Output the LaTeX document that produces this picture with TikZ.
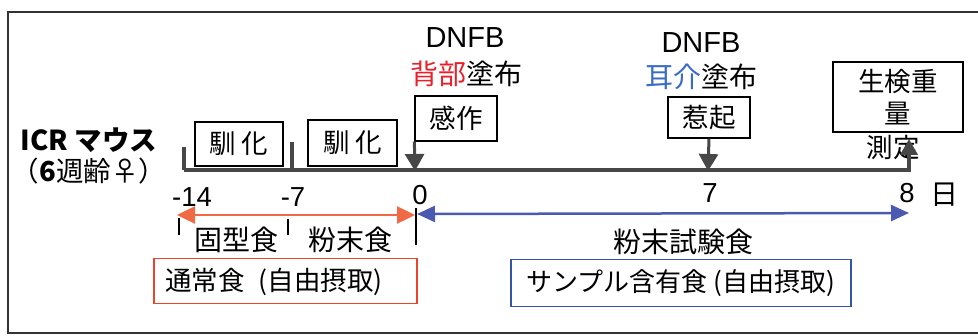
\documentclass[tikz,border=0pt]{standalone}
\usepackage{fontspec}
\setmainfont{Liberation Sans}
\newfontfamily\jp{Noto Sans CJK JP}
\usetikzlibrary{arrows.meta}
\definecolor{tlgray}{HTML}{474747}
\definecolor{orarrow}{HTML}{F06A45}
\definecolor{blarrow}{HTML}{4A5AB0}
\definecolor{redtxt}{HTML}{E8202A}
\definecolor{bluetxt}{HTML}{3A6CC6}
\definecolor{redbox}{HTML}{E8452A}
\definecolor{bluebox}{HTML}{3454A8}
\begin{document}
\begin{tikzpicture}[x=1pt,y=-1pt,
  lbl/.style={inner sep=0pt,font=\jp\fontsize{28}{30}\selectfont},
  num/.style={inner sep=0pt,font=\fontsize{27.5}{29}\selectfont},
  ebox/.style={draw=black,line width=1.3pt,inner sep=0pt,font=\jp\fontsize{26.5}{30}\selectfont},
  garrow/.style={draw=tlgray,line width=3pt,-{Triangle[width=19pt,length=17pt]}},
  tick/.style={draw=black,line width=1.5pt}
]
\useasboundingbox (0,0) rectangle (978,336);
% frame
\draw[line width=1.6pt,draw=black!80] (978,12) -- (8,12) -- (8,333) -- (978,333);

% left labels
\node[lbl,font=\jp\bfseries\fontsize{27.5}{30}\selectfont] (icr) at (89,140) {ICR マウス};
\node[lbl,font=\jp\fontsize{27.5}{30}\selectfont] (age) at (89,171) {（\textbf{6}週齢♀）};

% event boxes
\node[ebox,minimum width=88pt,minimum height=44pt] (jun1) at (239,144) {馴 化};
\node[ebox,minimum width=89pt,minimum height=46pt] (jun2) at (352.5,143) {馴 化};
\node[ebox,minimum width=82pt,minimum height=45pt] (kansa) at (456,118.5) {感作};
\node[ebox,minimum width=82pt,minimum height=41pt] (jaki) at (709,117.5) {惹起};
\node[ebox,minimum width=130pt,minimum height=70pt,align=center,font=\jp\fontsize{26.5}{32}\selectfont] (seiken) at (898,97) {生検重\\量};
\node[lbl,font=\jp\fontsize{26.5}{30}\selectfont] (sokutei) at (893,148) {測定};

% DNFB labels
\node[num,font=\fontsize{29}{31}\selectfont] (dnfb1) at (465,38) {DNFB};
\node[lbl] (haibu) at (466,74) {\textcolor{redtxt}{背部}塗布};
\node[num,font=\fontsize{29}{31}\selectfont] (dnfb2) at (701,43) {DNFB};
\node[lbl] (jikai) at (701,77) {\textcolor{bluetxt}{耳介}塗布};

% timeline
\coordinate (ts) at (184,170);
\coordinate (tcorner) at (909,170);
\coordinate (tend) at (909,139);
\coordinate (t0) at (415,171);
\coordinate (t7) at (708,171);
\coordinate (tk1a) at (184,147);
\coordinate (tk2a) at (292,142);
\coordinate (tk2b) at (292,170);
\draw[draw=tlgray,line width=4pt] (tk1a) -- (ts);
\draw[draw=tlgray,line width=4pt] (tk2a) -- (tk2b);
\draw[draw=tlgray,line width=4.5pt,-{Triangle[width=17pt,length=16pt]}] (ts) -- (tcorner) -- (tend);
\draw[garrow] (kansa.south west) -- (t0);
\draw[garrow] (jaki.south) -- (t7);

% day labels
\node[num] (m14) at (192,197) {-14};
\node[num] (m7) at (293,197) {-7};
\node[num] (d0) at (420,195) {0};
\node[num] (d7) at (710,193) {7};
\node[num] (d8) at (907,193) {8};
\node[lbl] (hi) at (944,195) {日};

% diet arrows
\coordinate (oa) at (177,215);
\coordinate (ob) at (415,215);
\coordinate (ba) at (417,214);
\coordinate (bb) at (909,213);
\draw[draw=orarrow,line width=2.5pt,{Triangle[width=17pt,length=18pt]}-{Triangle[width=17pt,length=18pt]}] (oa) -- (ob);
\draw[draw=blarrow,line width=2.5pt,{Triangle[width=16pt,length=18pt]}-{Triangle[width=16pt,length=18pt]}] (ba) -- (bb);

% small ticks
\coordinate (s1a) at (179,218); \coordinate (s1b) at (179,235);
\coordinate (s2a) at (288,219); \coordinate (s2b) at (288,235);
\coordinate (s3a) at (416,208); \coordinate (s3b) at (416,245);
\draw[tick] (s1a) -- (s1b);
\draw[tick] (s2a) -- (s2b);
\draw[tick] (s3a) -- (s3b);

% diet labels
\node[lbl] (kokei) at (236,240) {固型食};
\node[lbl] (funmatsu) at (350,240) {粉末食};
\node[lbl] (shiken) at (683,242) {粉末試験食};

\node[draw=redbox,line width=1.5pt,inner sep=0pt,minimum width=263pt,minimum height=45pt,anchor=north west] (tsujo) at (153,258) {};
\node[lbl,font=\jp\fontsize{26.5}{30}\selectfont,anchor=west] (tsujotxt) at (165,282) {通常食\hspace{14pt}(自由摂取)};
\node[draw=bluebox,line width=1.5pt,inner sep=0pt,minimum width=340pt,minimum height=47pt,anchor=north west,font=\jp\fontsize{26}{30}\selectfont] (sample) at (510,259) {サンプル含有食 (自由摂取)};
\end{tikzpicture}
\end{document}
